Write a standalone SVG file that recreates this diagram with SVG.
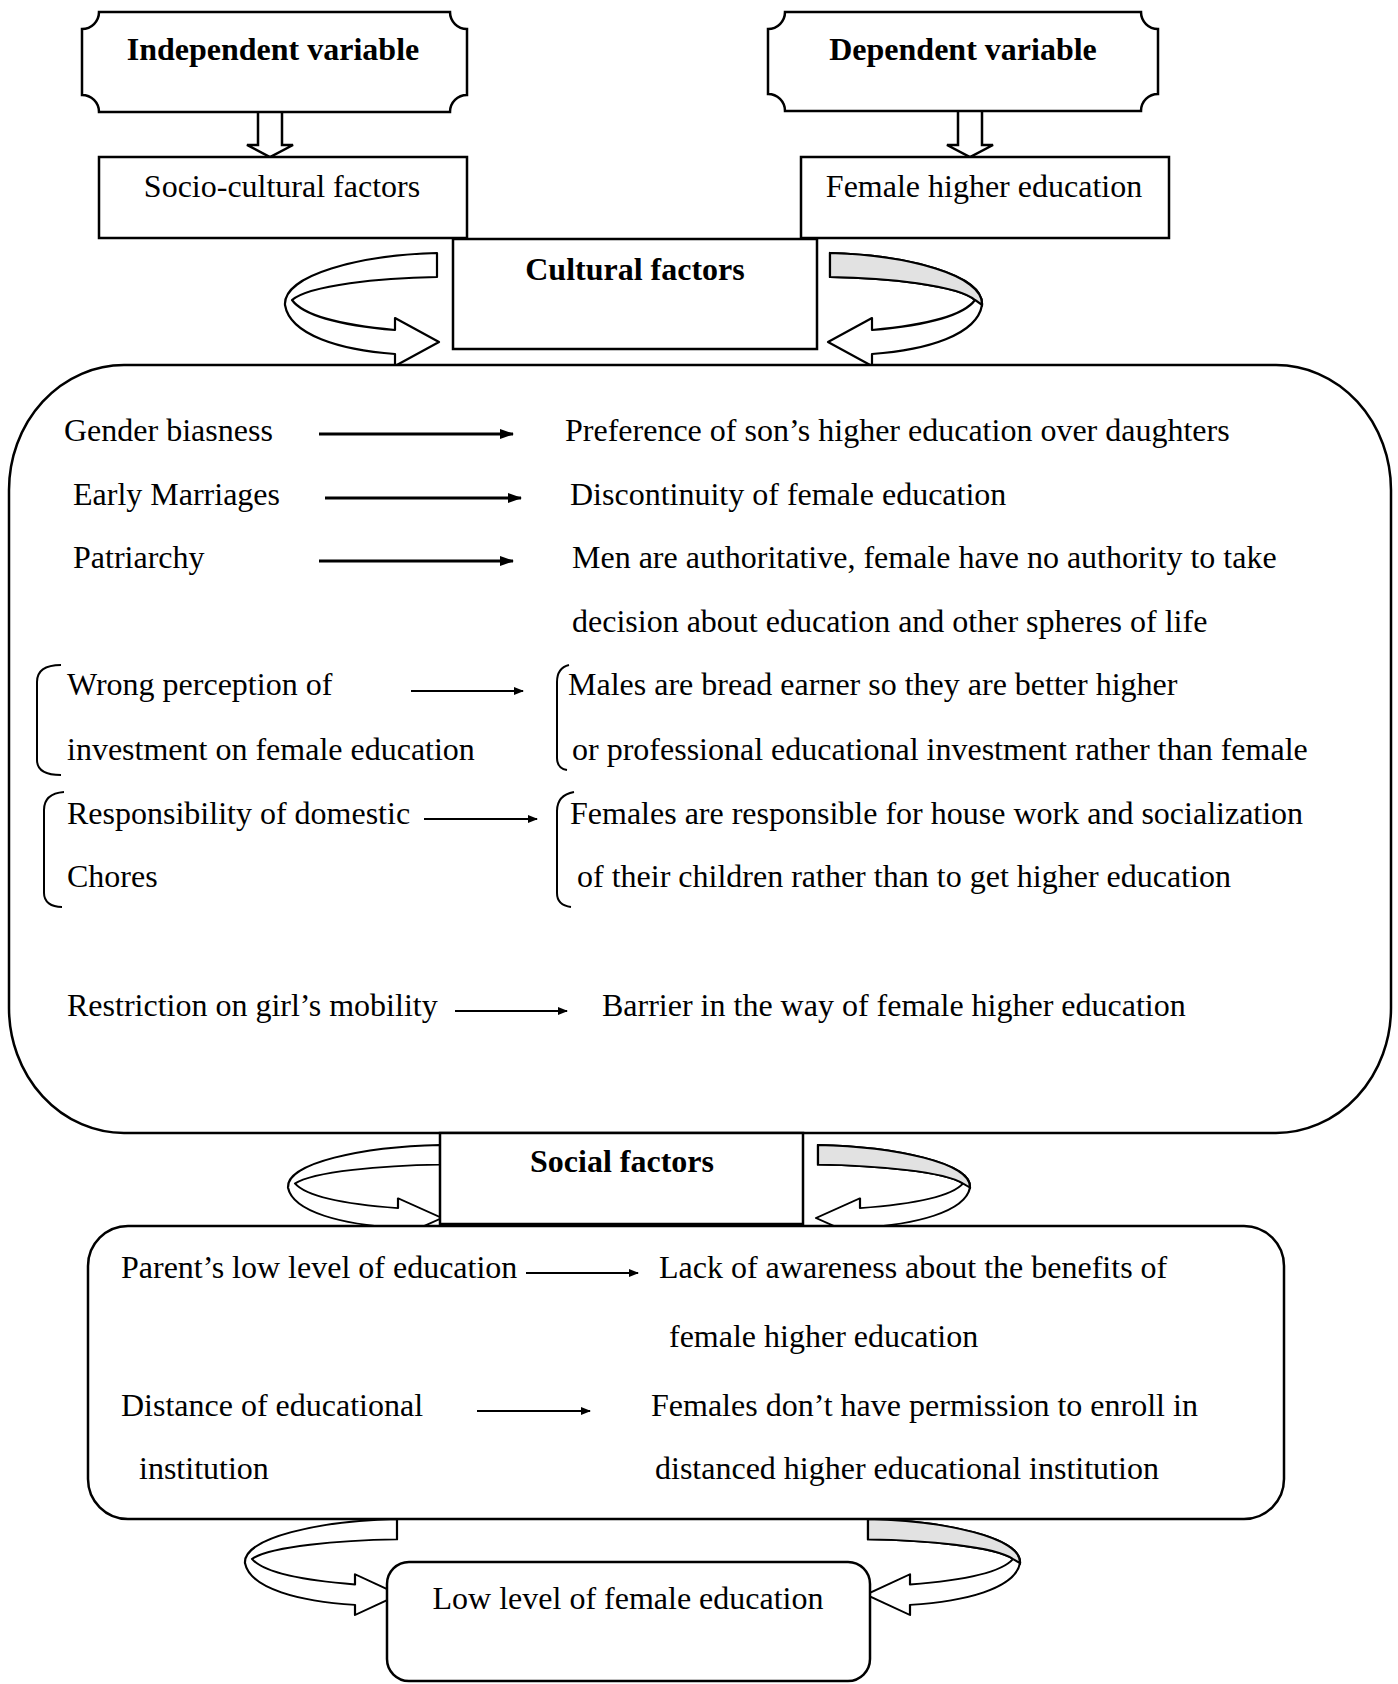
<svg xmlns="http://www.w3.org/2000/svg" width="1398" height="1684" viewBox="0 0 1398 1684">
<style>
.t{font-family:"Liberation Serif","Times New Roman",serif;font-size:32px;fill:#000}
.b{font-weight:bold}
.m{text-anchor:middle}
.box{fill:#fff;stroke:#000;stroke-width:2.5}
.ln{fill:none;stroke:#000;stroke-width:2}
.a1{stroke:#000;stroke-width:2.8;marker-end:url(#ah)}
.a2{stroke:#000;stroke-width:1.8;marker-end:url(#ahs)}
.curl{fill:#fff;stroke:#000;stroke-width:2.2;stroke-linejoin:round}
.back{fill:#e2e2e2;stroke:#000;stroke-width:2.2}
</style>
<defs>
<marker id="ah" markerWidth="14" markerHeight="10" refX="13" refY="5" orient="auto" markerUnits="userSpaceOnUse"><path d="M0,0 L14,5 L0,10 Z" fill="#000"/></marker>
<marker id="ahs" markerWidth="10" markerHeight="8" refX="9" refY="4" orient="auto" markerUnits="userSpaceOnUse"><path d="M0,0 L10,4 L0,8 Z" fill="#000"/></marker>
<path id="curlShape" d="M0,0 L0,24 C-57,25 -127,32 -145,47 C-132,65 -87,73 -42,77 L-42,65 L2,89 L-42,113 L-42,101 C-97,97 -147,82 -152,52 C-154,22 -77,2 0,0 Z"/>
<path id="backShape" d="M0,0 L0,24 C-57,25 -127,32 -145,47 L-152,52 C-154,22 -77,2 0,0 Z"/>
</defs>

<g id="connectors">
<path class="box" d="M258,112 L258,145 L247,145 L270,157 L293,145 L282,145 L282,112"/>
<path class="box" d="M958,111 L958,145 L947,145 L970,157 L993,145 L982,145 L982,111"/>
<g id="curl-cultural-left"><use href="#curlShape" class="curl" transform="translate(437,253)"/></g>
<g id="curl-cultural-right" transform="translate(830,253) scale(-1,1)"><use href="#curlShape" class="curl"/><use href="#backShape" class="back"/></g>
<g id="curl-social-left"><use href="#curlShape" class="curl" transform="translate(440,1145) scale(1,0.82)"/></g>
<g id="curl-social-right" transform="translate(818,1145) scale(-1,0.82)"><use href="#curlShape" class="curl"/><use href="#backShape" class="back"/></g>
<g id="curl-low-left"><use href="#curlShape" class="curl" transform="translate(397,1519) scale(1,0.85)"/></g>
<g id="curl-low-right" transform="translate(868,1519) scale(-1,0.85)"><use href="#curlShape" class="curl"/><use href="#backShape" class="back"/></g>
</g>

<g id="independent">
<path class="box" d="M99,12 L450,12 A17,17 0 0 0 467,29 L467,95 A17,17 0 0 0 450,112 L99,112 A17,17 0 0 0 82,95 L82,29 A17,17 0 0 0 99,12 Z"/>
<text class="t b m" x="273" y="60">Independent variable</text>
</g>
<g id="dependent">
<path class="box" d="M785,12 L1141,12 A17,17 0 0 0 1158,29 L1158,94 A17,17 0 0 0 1141,111 L785,111 A17,17 0 0 0 768,94 L768,29 A17,17 0 0 0 785,12 Z"/>
<text class="t b m" x="963" y="60">Dependent variable</text>
</g>
<g id="socio">
<rect class="box" x="99" y="157" width="368" height="81"/>
<text class="t m" x="282" y="197">Socio-cultural factors</text>
</g>
<g id="female">
<rect class="box" x="801" y="157" width="368" height="81"/>
<text class="t m" x="984" y="197">Female higher education</text>
</g>
<g id="cultural">
<rect class="box" x="453" y="239" width="364" height="110"/>
<text class="t b m" x="635" y="280">Cultural factors</text>
</g>

<g id="cultural-panel">
<rect class="box" x="9" y="365" width="1382" height="768" rx="115" ry="125"/>
<text class="t" x="64" y="441">Gender biasness</text>
<line class="a1" x1="319" y1="434" x2="513" y2="434"/>
<text class="t" x="565" y="441">Preference of son’s higher education over daughters</text>
<text class="t" x="73" y="505">Early Marriages</text>
<line class="a1" x1="325" y1="498" x2="521" y2="498"/>
<text class="t" x="570" y="505">Discontinuity of female education</text>
<text class="t" x="73" y="568">Patriarchy</text>
<line class="a1" x1="319" y1="561" x2="513" y2="561"/>
<text class="t" x="572" y="568">Men are authoritative, female have no authority to take</text>
<text class="t" x="572" y="632">decision about education and other spheres of life</text>
<path class="ln" d="M61,665 C46,665 37,670 37,682 L37,760 C37,770 46,775 61,775"/>
<text class="t" x="67" y="695">Wrong perception of</text>
<text class="t" x="67" y="760">investment on female education</text>
<line class="a2" x1="411" y1="691" x2="523" y2="691"/>
<path class="ln" d="M569,665 C561,667 557,672 557,682 L557,758 C557,765 561,769 567,770"/>
<text class="t" x="568" y="695">Males are bread earner so they are better higher</text>
<text class="t" x="572" y="760">or professional educational investment rather than female</text>
<path class="ln" d="M64,792 C51,793 44,799 44,810 L44,893 C44,902 51,907 62,907"/>
<text class="t" x="67" y="824">Responsibility of domestic</text>
<text class="t" x="67" y="887">Chores</text>
<line class="a2" x1="424" y1="819" x2="537" y2="819"/>
<path class="ln" d="M574,792 C563,794 557,800 557,811 L557,893 C557,902 563,906 571,907"/>
<text class="t" x="570" y="824">Females are responsible for house work and socialization</text>
<text class="t" x="577" y="887">of their children rather than to get higher education</text>
<text class="t" x="67" y="1016">Restriction on girl’s mobility</text>
<line class="a2" x1="455" y1="1011" x2="567" y2="1011"/>
<text class="t" x="602" y="1016">Barrier in the way of female higher education</text>
</g>

<g id="social">
<rect class="box" x="440" y="1133" width="363" height="91"/>
<text class="t b m" x="622" y="1172">Social factors</text>
</g>

<g id="social-panel">
<rect class="box" x="88" y="1226" width="1196" height="293" rx="40" ry="40"/>
<text class="t" x="121" y="1278">Parent’s low level of education</text>
<line class="a2" x1="526" y1="1273" x2="638" y2="1273"/>
<text class="t" x="659" y="1278">Lack of awareness about the benefits of</text>
<text class="t" x="669" y="1347">female higher education</text>
<text class="t" x="121" y="1416">Distance of educational</text>
<line class="a2" x1="477" y1="1411" x2="590" y2="1411"/>
<text class="t" x="651" y="1416">Females don’t have permission to enroll in</text>
<text class="t" x="139" y="1479">institution</text>
<text class="t" x="655" y="1479">distanced higher educational institution</text>
</g>

<g id="low-level">
<rect class="box" x="387" y="1562" width="483" height="119" rx="22" ry="22"/>
<text class="t m" x="628" y="1609">Low level of female education</text>
</g>
</svg>
